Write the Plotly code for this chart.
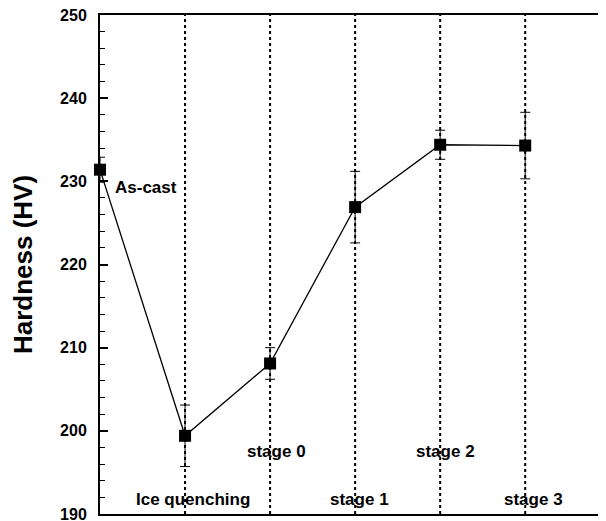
import plotly.graph_objects as go

stages = ["As-cast", "Ice quenching", "stage 0", "stage 1", "stage 2", "stage 3"]
hardness = [231.4, 199.4, 208.1, 226.9, 234.4, 234.3]
errors = [1.5, 3.7, 1.9, 4.3, 1.75, 4.0]
y_ticks = [190, 200, 210, 220, 230, 240, 250]

xs = list(range(len(stages)))
font_family = "Arial, Liberation Sans, sans-serif"

fig = go.Figure()
fig.add_trace(go.Scatter(
    x=xs, y=hardness,
    mode="lines+markers",
    line=dict(color="black", width=1.3),
    marker=dict(symbol="square", size=12, color="black"),
    error_y=dict(type="data", array=errors, color="black", thickness=1, width=5),
    showlegend=False,
    cliponaxis=False,
))

for i in xs[1:]:
    fig.add_shape(type="line", x0=i, x1=i, y0=190, y1=250, xref="x", yref="y",
                  line=dict(color="black", width=2, dash="dot"), layer="below")

# label positions (data coords)
label_pos = [(0.54, 229.2), (1.09, 191.7), (2.07, 197.5), (3.05, 191.7), (4.06, 197.5), (5.1, 191.7)]
for name, (lx, ly) in zip(stages, label_pos):
    fig.add_annotation(x=lx, y=ly, text=name, showarrow=False,
                       font=dict(family=font_family, size=17, color="black", weight="bold"),
                       xref="x", yref="y")

fig.update_layout(
    width=598, height=513,
    margin=dict(l=92, r=0, t=7, b=7, autoexpand=False),
    plot_bgcolor="white", paper_bgcolor="white",
    font=dict(family=font_family, color="black"),
)
fig.update_xaxes(range=[0, 5.95], showgrid=False, zeroline=False, showticklabels=False,
                 ticks="", showline=True, linecolor="black", linewidth=2, mirror=True,
                 automargin=False)
fig.update_yaxes(range=[190, 250], tickvals=y_ticks, showgrid=False, zeroline=False,
                 ticks="inside", ticklen=8, tickwidth=1.5, tickcolor="black",
                 minor=dict(dtick=2, ticks="inside", ticklen=5, tickwidth=1, tickcolor="black"),
                 showline=True, linecolor="black", linewidth=2, automargin=False,
                 ticklabeloverflow="allow", ticklabelstandoff=8,
                 tickfont=dict(family=font_family, size=16, color="black", weight="bold"),
                 title=dict(text="Hardness (HV)", standoff=30,
                            font=dict(family=font_family, size=26, color="black", weight="bold")))

fig.write_html("out.html")
